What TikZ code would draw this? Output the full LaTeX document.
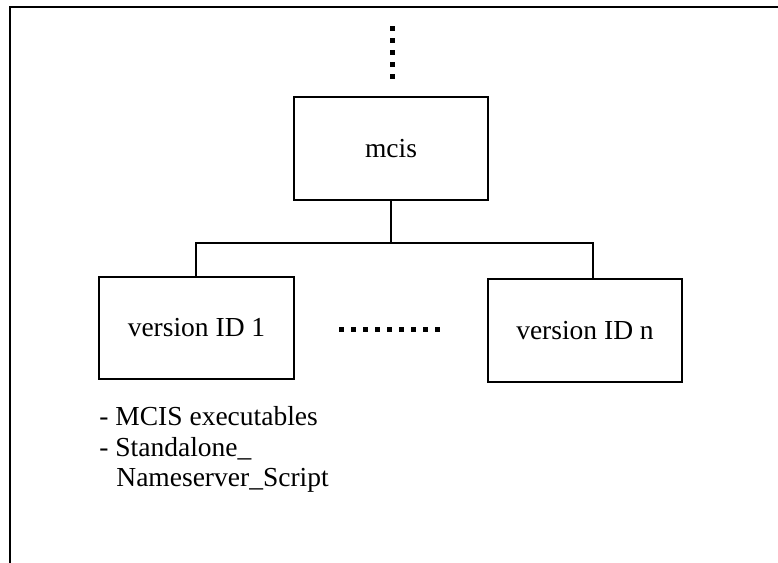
\documentclass[tikz,border=0pt]{standalone}
\usepackage{fontspec}
\setmainfont{Liberation Serif}
\begin{document}
\begin{tikzpicture}[x=0.5pt,y=-0.5pt,
  font=\fontsize{13.75}{15.25}\selectfont,
  dirbox/.style={draw,line width=1pt,minimum width=97pt,minimum height=51.5pt,inner sep=0pt},
  link/.style={line width=0.9pt},
  frameline/.style={line width=1.1pt},
  dotrow/.style={line width=2.5pt,dash pattern=on 2.5pt off 3.5pt},
  note/.style={anchor=base west,inner sep=0pt}]
\useasboundingbox (0,0) rectangle (778,563);

% page frame: top and left edges only
\coordinate (fl) at (10,563);
\coordinate (ftl) at (10,7);
\coordinate (ftr) at (778,7);
\draw[frameline] (fl) -- (ftl) -- (ftr);

% directory boxes
\node[dirbox] (mcis) at (391,148.5) {mcis};
\node[dirbox,minimum width=97.5pt,minimum height=51pt] (v1) at (196.5,328) {version ID 1};
\node[dirbox] (vn) at (585,330.5) {version ID n};

% continuation above the top directory
\coordinate (up0) at (392,26);
\coordinate (up1) at (392,79);
\draw[dotrow] (up0) -- (up1);

% elided versions between the boxes
\coordinate (mid0) at (339,329);
\coordinate (mid1) at (440,329);
\draw[dotrow] (mid0) -- (mid1);

% tree connectors
\coordinate (busL) at (196,243);
\coordinate (busR) at (593,243);
\draw[link] (mcis.south) -- (mcis.south |- busL);
\draw[link] (busL |- v1.north) -- (busL) -- (busR) -- (busR |- vn.north);

% contents of a version directory
\node[note] (n1) at (99,425) {- MCIS executables};
\node[note] (n2) at (99,456) {- Standalone\_};
\node[note] (n3) at (116,486) {Nameserver\_Script};
\end{tikzpicture}
\end{document}
